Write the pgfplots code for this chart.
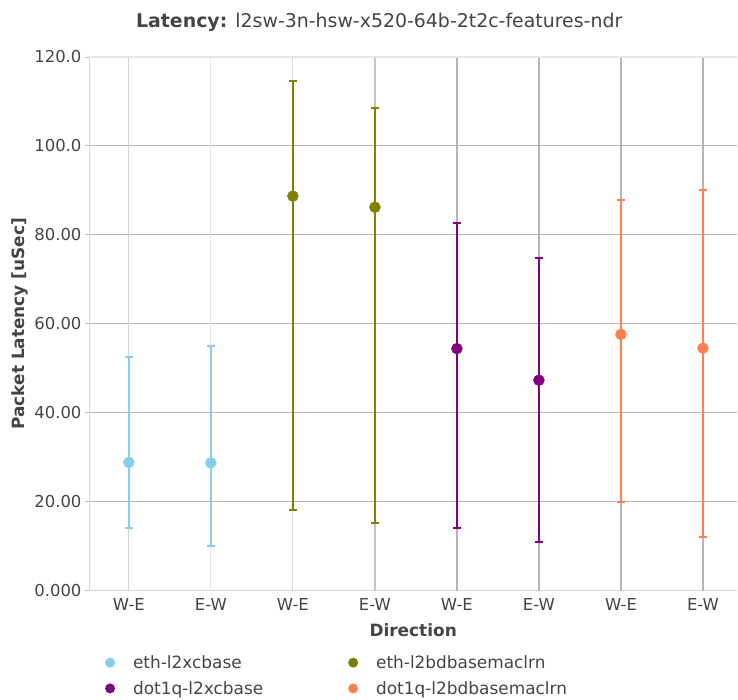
\documentclass[border=0pt]{standalone}
\usepackage{pgfplots}
\pgfplotsset{compat=1.18}
\usepackage{fontspec}
\setmainfont{DejaVu Sans}
\usetikzlibrary{calc}
\definecolor{cA}{RGB}{135,206,235}
\definecolor{cB}{RGB}{128,128,0}
\definecolor{cC}{RGB}{128,0,128}
\definecolor{cD}{RGB}{255,127,80}
\definecolor{txt}{RGB}{68,68,68}
\definecolor{gridc}{RGB}{182,182,182}
\begin{document}
\begin{tikzpicture}
\begin{axis}[
  name=ax,
  scale only axis,
  width=649bp, height=534bp,
  xmin=-0.487, xmax=7.42,
  ymin=0, ymax=120,
  ytick={0,20,40,60,80,100,120},
  yticklabels={0.000,20.00,40.00,60.00,80.00,100.0,120.0},
  xtick={0,1,2,3,4,5,6,7},
  xticklabels={W-E,E-W,W-E,E-W,W-E,E-W,W-E,E-W},
  axis lines*=left,
  axis line style={draw=black!16, line width=0.8bp},
  tick style={draw=black!25, line width=0.8bp},
  major tick length=4bp,
  xtick style={draw=none},
  tick align=outside,
  ymajorgrids,
  grid style={draw=gridc, line width=1.2bp},
  tick label style={font=\fontsize{16.5}{19}\selectfont, text=txt},
  xlabel={\textbf{Direction}},
  ylabel={\textbf{Packet Latency [uSec]}},
  label style={font=\fontsize{17}{20}\selectfont, text=txt},
  xlabel style={yshift=-7bp},
  ylabel style={yshift=-1bp},
  clip=false,
  legend columns=2,
  legend style={draw=none, fill=none, at={(rel axis cs:0.02,-0.114)}, anchor=north west,
    font=\fontsize{17}{20}\selectfont, text=txt, cells={anchor=west},
    /tikz/every even column/.append style={column sep=83bp},
    row sep=7.4bp},
  legend image code/.code={\path[draw=none,fill=none] (0,-0.1bp) rectangle (26bp,0.1bp); \fill[draw=none] (5bp,0bp) circle (5bp);},
]
% vertical grid lines
\draw[black!17, line width=1.2bp] (axis cs:0,0) -- (axis cs:0,120);
\draw[black!9, line width=1.2bp] (axis cs:1,0) -- (axis cs:1,120);
\draw[black!14, line width=1.2bp] (axis cs:2,0) -- (axis cs:2,120);
\draw[black!23, line width=1.2bp] (axis cs:3,0) -- (axis cs:3,120);
\draw[gridc, line width=1.2bp] (axis cs:4,0) -- (axis cs:4,120);
\draw[gridc, line width=1.2bp] (axis cs:5,0) -- (axis cs:5,120);
\draw[gridc, line width=1.2bp] (axis cs:6,0) -- (axis cs:6,120);
\draw[gridc, line width=1.2bp] (axis cs:7,0) -- (axis cs:7,120);
\draw[black!10, line width=1.2bp] (axis cs:-0.487,120) -- (axis cs:7.42,120);

\addplot[cA, only marks, mark=*, mark size=5.5bp,
  error bars/.cd, y dir=both, y explicit,
  error bar style={line width=2bp},
  error mark options={rotate=90, mark size=4bp, line width=2bp}]
  table[x=x, y=y, y error plus=ep, y error minus=em] {
  x y ep em
  0 28.8 23.8 14.7
  1 28.7 26.3 18.7
  };
\addlegendentry{eth-l2xcbase}
\addplot[cB, only marks, mark=*, mark size=5.5bp,
  error bars/.cd, y dir=both, y explicit,
  error bar style={line width=2bp},
  error mark options={rotate=90, mark size=4bp, line width=2bp}]
  table[x=x, y=y, y error plus=ep, y error minus=em] {
  x y ep em
  2 88.7 25.8 70.7
  3 86.2 22.3 71.1
  };
\addlegendentry{eth-l2bdbasemaclrn}
\addplot[cC, only marks, mark=*, mark size=5.5bp,
  error bars/.cd, y dir=both, y explicit,
  error bar style={line width=2bp},
  error mark options={rotate=90, mark size=4bp, line width=2bp}]
  table[x=x, y=y, y error plus=ep, y error minus=em] {
  x y ep em
  4 54.4 28.3 40.4
  5 47.3 27.5 36.3
  };
\addlegendentry{dot1q-l2xcbase}
\addplot[cD, only marks, mark=*, mark size=5.5bp,
  error bars/.cd, y dir=both, y explicit,
  error bar style={line width=2bp},
  error mark options={rotate=90, mark size=4bp, line width=2bp}]
  table[x=x, y=y, y error plus=ep, y error minus=em] {
  x y ep em
  6 57.6 30.3 37.6
  7 54.5 35.5 42.5
  };
\addlegendentry{dot1q-l2bdbasemaclrn}
\end{axis}
\node[font=\fontsize{19}{22}\selectfont, text=txt, anchor=base] at ($(ax.south west)+(290.5bp,563bp)$) {\textbf{Latency:} l2sw-3n-hsw-x520-64b-2t2c-features-ndr};
\path[use as bounding box] ($(ax.south west)+(-89bp,-109bp)$) rectangle ($(ax.south west)+(649bp,591bp)$);
\end{tikzpicture}
\end{document}
